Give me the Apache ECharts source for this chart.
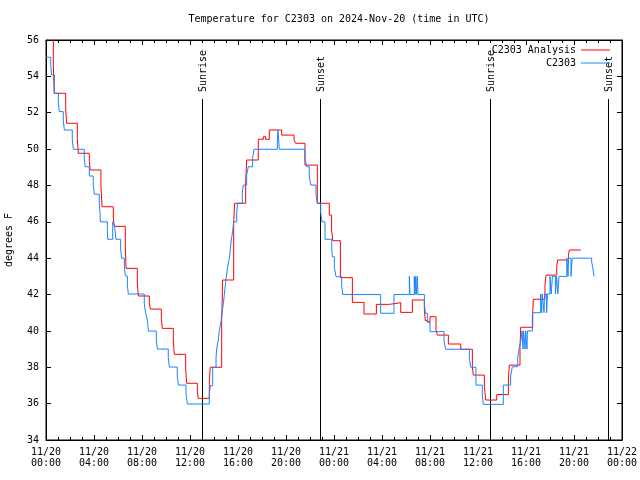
<!DOCTYPE html>
<html><head><meta charset="utf-8">
<script src="https://cdn.jsdelivr.net/npm/echarts@6/dist/echarts.min.js"></script>
<style>html,body{margin:0;padding:0;background:#fff}#c{width:640px;height:480px}</style>
</head><body><div id="c"></div>
<script>
const FONT = 'DejaVu Sans Mono';
const titleText = 'Temperature for C2303 on 2024-Nov-20 (time in UTC)';
const yAxisName = 'degrees F';
const xTickLabels = ['11/20\n00:00','11/20\n04:00','11/20\n08:00','11/20\n12:00','11/20\n16:00','11/20\n20:00',
  '11/21\n00:00','11/21\n04:00','11/21\n08:00','11/21\n12:00','11/21\n16:00','11/21\n20:00','11/22\n00:00'];
const seriesNames = ['C2303 Analysis', 'C2303'];
// hours since 11/20 00:00 UTC, value holds until next point
const analysisTimes = [0,0.61,0.69,1.64,1.72,2.61,2.69,3.61,3.69,4.58,4.67,5.61,5.69,6.61,6.67,7.61,7.69,8.61,8.69,9.61,9.69,10.61,10.69,11.64,11.72,12.61,12.69,13.61,13.69,14.64,14.72,15.64,15.72,16.64,16.72,17.69,18.11,18.3,18.61,19.64,20.67,20.8,21.58,22.61,23.61,23.8,23.9,24.53,25.53,26.5,27.53,28.61,29.56,30.53,31.53,31.61,31.83,32.0,32.5,32.61,33.53,34.56,35.53,35.61,36.53,36.64,37.56,38.53,38.61,39.5,39.56,40.56,40.61,41.58,41.67,42.56,42.64,43.53,43.61,44.56];
const analysisValues = [56.3,54.62,53.07,52.24,51.42,50.59,49.77,49.31,48.85,47.93,46.83,46.2,45.75,44.63,43.44,42.7,41.92,41.55,41.2,40.69,40.14,39.44,38.71,37.89,37.12,36.69,36.29,37.2,38.0,40.5,42.8,45.9,47.02,48.12,49.4,50.54,50.68,50.54,51.05,50.77,50.5,50.32,49.12,47.02,46.37,45.55,44.96,42.93,41.57,40.93,41.46,41.55,41.02,41.7,41.15,40.56,40.45,40.78,40.05,39.77,39.28,38.99,38.03,37.57,36.93,36.2,36.5,37.3,38.12,39.13,40.2,41.06,41.74,42.52,43.07,43.53,43.9,44.17,44.45,44.45];
const obsTimes = [0,0.39,0.47,0.69,1.03,1.11,1.44,1.53,2.19,2.28,3.19,3.27,3.61,3.94,4.03,4.44,4.5,4.53,5.11,5.14,5.56,5.72,5.83,6.22,6.31,6.53,6.61,6.78,6.86,8.19,8.31,8.47,8.53,9.19,9.28,10.19,10.28,10.94,11.03,11.67,11.78,13.61,13.69,13.89,14.17,14.22,14.36,14.44,14.58,14.67,14.78,14.86,14.94,15.03,15.14,15.28,15.36,15.44,15.56,15.64,15.89,15.97,16.36,16.44,16.72,16.86,17.22,17.33,19.28,19.33,19.44,21.58,21.72,21.94,22.06,22.5,22.61,22.89,23.0,23.25,23.81,23.86,24.03,24.17,24.64,24.72,27.89,29.0,30.28,30.33,30.69,30.75,30.81,30.86,30.94,31.0,31.53,31.61,31.78,32.0,33.17,33.31,35.28,35.39,35.83,36.36,36.44,38.11,38.72,38.86,39.31,39.42,39.58,39.67,39.75,39.8,39.92,39.97,40.08,40.12,40.53,41.22,41.3,41.35,41.5,41.55,41.72,41.78,42.0,42.1,42.2,42.45,42.55,42.65,42.75,43.4,43.5,43.55,43.75,43.85,45.47,45.56,45.67];
const obsValues = [55.05,54.6,54.08,53.07,52.52,52.06,51.6,51.05,50.54,49.99,49.5,49.03,48.52,48.02,47.52,47.02,46.5,46.0,45.5,45.04,46.0,45.75,45.04,44.49,44.0,43.53,43.02,42.52,42.03,41.48,40.97,40.5,39.99,39.5,39.0,38.53,38.01,37.5,37.02,36.51,35.98,36.47,36.99,38.0,38.5,39.0,39.5,40.01,40.5,41.0,41.5,42.0,42.52,43.0,43.53,44.0,44.49,45.0,45.5,46.0,46.5,47.02,47.57,48.02,48.57,49.03,49.5,49.99,50.5,51.05,49.99,49.5,49.03,48.52,48.02,47.52,47.02,46.5,46.0,45.04,44.54,44.08,43.49,42.98,42.52,42.0,40.97,42.0,43.0,42.0,43.0,42.0,43.0,42.0,43.0,42.0,41.48,40.97,40.47,39.96,39.41,38.99,38.5,38.0,37.02,36.47,35.96,37.02,37.52,38.03,38.53,39.0,39.5,40.0,39.0,40.0,39.0,40.0,39.0,40.0,41.0,42.03,41.0,42.03,41.0,42.03,41.0,42.03,43.0,42.03,43.0,42.03,43.0,42.03,43.0,44.0,43.0,44.0,43.0,44.0,43.8,43.5,43.0];
const sunEvents = ['Sunrise','Sunset','Sunrise','Sunset'];
const sunTimes = [13.03, 22.87, 37.03, 46.86];

const X_MIN = 0, X_MAX = 48, X_STEP = 4;
const Y_MIN = 34, Y_MAX = 56, Y_STEP = 2;

const chart = echarts.init(document.getElementById('c'), null, {renderer: 'canvas'});
const txt = {fontFamily: FONT, fontSize: 10, color: '#000'};
const tickCommon = {show: true, inside: true, length: 5, lineStyle: {color: '#000', width: 1}};
const minorCommon = {show: true, splitNumber: 4, length: 3, lineStyle: {color: '#000', width: 1}};
function xAxisDef(pos, labels) {
  return {type: 'value', position: pos, min: X_MIN, max: X_MAX, interval: X_STEP,
    axisLine: {show: true, onZero: false, lineStyle: {color: '#000', width: 1}},
    axisTick: tickCommon, minorTick: minorCommon,
    splitLine: {show: false}, minorSplitLine: {show: false},
    axisLabel: {show: labels, ...txt, margin: 7, lineHeight: 11,
      formatter: v => xTickLabels[Math.round((v - X_MIN) / X_STEP)] || ''}};
}
function yAxisDef(pos, labels) {
  return {type: 'value', position: pos, min: Y_MIN, max: Y_MAX, interval: Y_STEP,
    name: labels ? yAxisName : '', nameLocation: 'middle', nameGap: 32, nameTextStyle: txt,
    axisLine: {show: true, onZero: false, lineStyle: {color: '#000', width: 1}},
    axisTick: tickCommon, splitLine: {show: false},
    axisLabel: {show: labels, ...txt, margin: 7}};
}
const legendCommon = {orient: 'horizontal', right: 30, align: 'right', padding: 0,
  icon: 'rect', itemWidth: 29, itemHeight: 1, itemGap: 0, textStyle: txt, selectedMode: false};

chart.setOption({
  animation: false,
  backgroundColor: '#fff',
  title: {text: titleText, left: 334, top: 9, textAlign: 'center',
    textStyle: {fontFamily: FONT, fontSize: 10, fontWeight: 'normal', color: '#000'}},
  legend: [
    {...legendCommon, data: [seriesNames[0]], top: 45},
    {...legendCommon, data: [seriesNames[1]], top: 58}
  ],
  grid: {left: 46, right: 18, top: 40, bottom: 40, show: true, borderColor: '#000', borderWidth: 1,
    containLabel: false, outerBoundsMode: 'none'},
  xAxis: [xAxisDef('bottom', true), xAxisDef('top', false)],
  yAxis: [yAxisDef('left', true), yAxisDef('right', false)],
  series: [
    {name: seriesNames[0], type: 'line', step: 'end', showSymbol: false, symbol: 'none',
     data: analysisTimes.map((t, i) => [t, analysisValues[i]]),
     lineStyle: {color: '#ff0000', width: 1}, itemStyle: {color: '#ff0000'}, clip: true, z: 3},
    {name: seriesNames[1], type: 'line', step: 'end', showSymbol: false, symbol: 'none',
     data: obsTimes.map((t, i) => [t, obsValues[i]]),
     lineStyle: {color: '#1a84ff', width: 1}, itemStyle: {color: '#1a84ff'}, clip: true, z: 4},
    {name: 'sun', type: 'custom', clip: false, z: 2, silent: true,
     data: sunTimes.map((t, i) => [t, Y_MIN, i]),
     encode: {x: 0, y: 1},
     renderItem: (params, api) => {
       const t = api.value(0);
       const bot = api.coord([t, Y_MIN]);
       const top = api.coord([t, Y_MAX]);
       const x = Math.round(bot[0]) + 0.5;
       return {type: 'group', children: [
         {type: 'line', shape: {x1: x, y1: bot[1], x2: x, y2: top[1] + 59},
          style: {stroke: '#000', lineWidth: 1}},
         {type: 'text', x: x + 1, y: top[1] + 52, rotation: Math.PI / 2,
          style: {text: sunEvents[api.value(2)], font: '10px ' + FONT, fill: '#000',
                  align: 'left', verticalAlign: 'middle'}}
       ]};
     }}
  ]
});
</script></body></html>
